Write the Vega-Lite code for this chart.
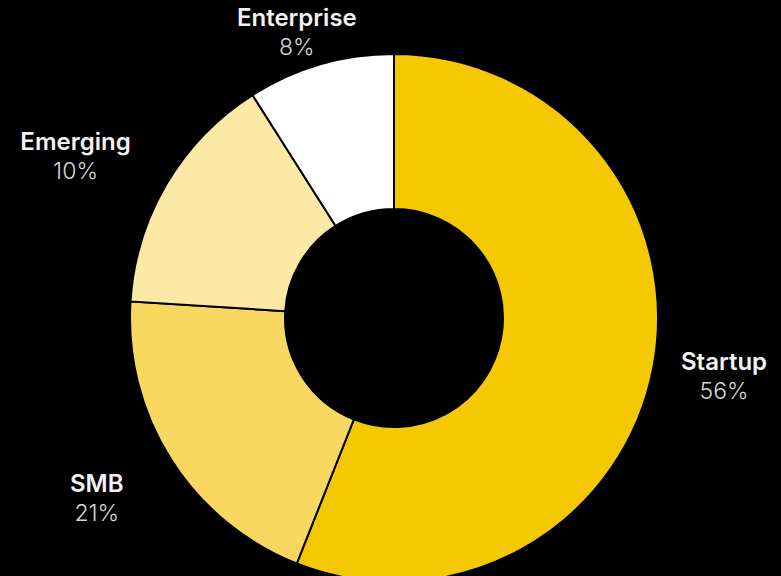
{
  "$schema": "https://vega.github.io/schema/vega-lite/v6.json",
  "autosize": {"type": "none"},
  "width": 774,
  "height": 516,
  "padding": {"left": 7, "top": 60, "right": 0, "bottom": 0},
  "background": "#000000",
  "config": {"view": {"stroke": null}},
  "data": {
    "values": [
      {"category": "Startup", "value": 56, "label": "56%"},
      {"category": "SMB", "value": 20, "label": "21%"},
      {"category": "Emerging", "value": 15, "label": "10%"},
      {"category": "Enterprise", "value": 9, "label": "8%"}
    ]
  },
  "encoding": {
    "theta": {"field": "value", "type": "quantitative", "stack": true},
    "order": {"field": "value", "type": "quantitative", "sort": "descending"}
  },
  "layer": [
    {
      "mark": {"type": "arc", "innerRadius": 109, "outerRadius": 264, "stroke": "#000000", "strokeWidth": 2},
      "encoding": {
        "color": {
          "field": "category",
          "type": "nominal",
          "scale": {"domain": ["Startup", "SMB", "Emerging", "Enterprise"], "range": ["#F4C802", "#F8D860", "#FDE9A6", "#FFFFFF"]},
          "legend": null
        }
      }
    },
    {
      "mark": {
        "type": "text",
        "radius": {"expr": "datum.category === 'Enterprise' ? 298 : datum.category === 'Emerging' ? 370 : datum.category === 'Startup' ? 336 : 352"},
        "dy": {"expr": "datum.category === 'Emerging' ? 13 : datum.category === 'Startup' ? -18 : datum.category === 'SMB' ? -22 : -13"},
        "dx": {"expr": "datum.category === 'Enterprise' ? -14 : 0"},
        "font": "Inter", "fontWeight": 600, "fontSize": 24, "fill": "#F2F2F2"
      },
      "encoding": {
        "detail": {"field": "category", "type": "nominal"},
        "text": {"field": "category", "type": "nominal"}
      }
    },
    {
      "mark": {
        "type": "text",
        "radius": {"expr": "datum.category === 'Enterprise' ? 298 : datum.category === 'Emerging' ? 370 : datum.category === 'Startup' ? 336 : 352"},
        "dy": {"expr": "datum.category === 'Emerging' ? 42 : datum.category === 'Startup' ? 11 : datum.category === 'SMB' ? 7 : 16"},
        "dx": {"expr": "datum.category === 'Enterprise' ? -14 : 0"},
        "font": "Inter", "fontWeight": 300, "fontSize": 23, "fill": "#D6D6D6"
      },
      "encoding": {
        "detail": {"field": "category", "type": "nominal"},
        "text": {"field": "label", "type": "nominal"}
      }
    }
  ]
}
